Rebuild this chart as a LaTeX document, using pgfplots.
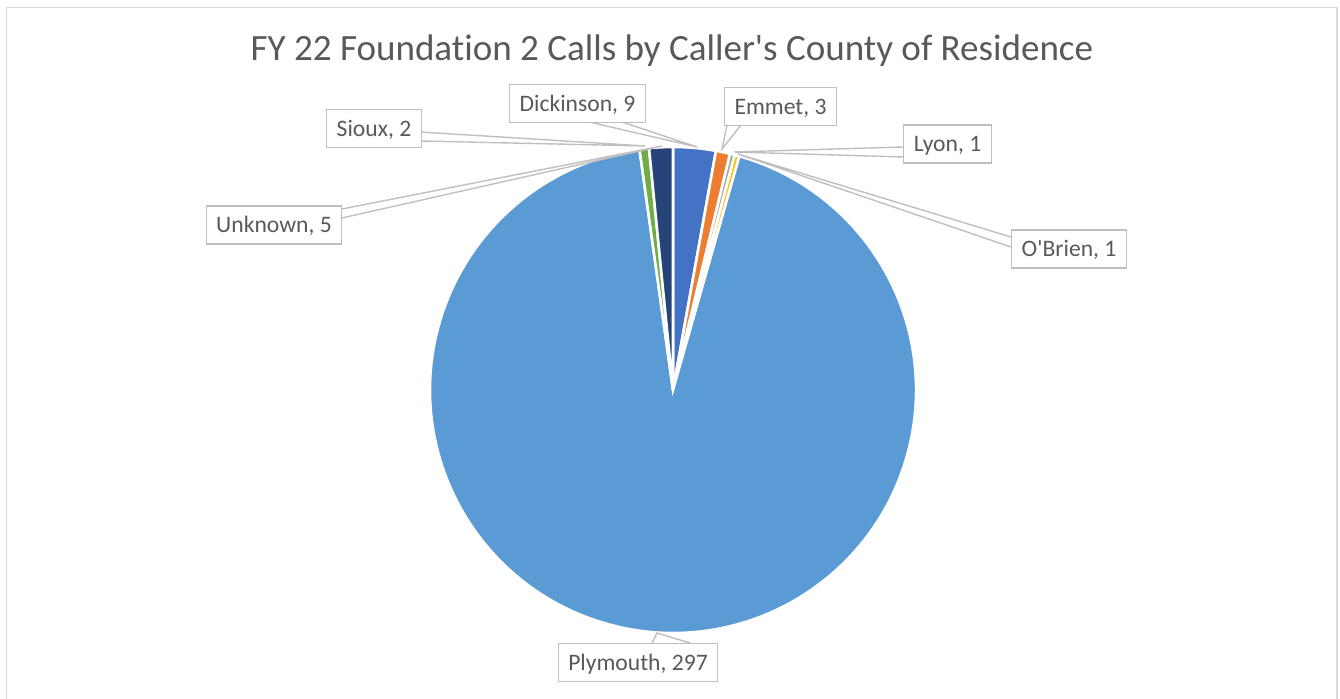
\documentclass[border=0pt]{standalone}
\usepackage{pgfplots}
\pgfplotsset{compat=1.18}
\usepackage{pgfplotstable}
\usepackage{fontspec}
\setmainfont{Carlito}[Ligatures={TeXOff,NoCommon}]
\definecolor{c1}{HTML}{4472C4}
\definecolor{c2}{HTML}{ED7D31}
\definecolor{c3}{HTML}{A5A5A5}
\definecolor{c4}{HTML}{FFC000}
\definecolor{c5}{HTML}{5B9BD5}
\definecolor{c6}{HTML}{70AD47}
\definecolor{c7}{HTML}{264478}
\definecolor{txt}{HTML}{595959}
\definecolor{lead}{HTML}{BFBFBF}
\definecolor{frame}{HTML}{D9D9D9}
\pgfplotstableread{
name value color
Dickinson 9 c1
Emmet 3 c2
Lyon 1 c3
OBrien 1 c4
Plymouth 297 c5
Sioux 2 c6
Unknown 5 c7
}\piedata
\begin{document}
\begin{tikzpicture}[x=1bp,y=1bp,
  lab/.style={draw=lead, line width=1.4bp, fill=white, text=txt,
    font=\fontsize{23.7}{28}\selectfont, text height=15.3bp, text depth=0bp,
    inner xsep=10bp, inner ysep=11.5bp}]
\draw[frame, line width=1.5bp] (6.5,-10) -- (6.5,690.5) -- (1337,690.5) -- (1337,-10);
\begin{axis}[at={(0,0)}, anchor=south west, width=1340bp, height=698bp,
  scale only axis, xmin=0, xmax=1340, ymin=0, ymax=698, hide axis, clip=false]
\pgfplotstablegetrowsof{\piedata}
\pgfmathtruncatemacro\nrows{\pgfplotsretval-1}
\def\total{0}
\pgfplotsforeachungrouped \i in {0,...,\nrows}{%
  \pgfplotstablegetelem{\i}{value}\of\piedata
  \pgfmathsetmacro\total{\total+\pgfplotsretval}%
}
\def\curang{90}
\pgfplotsforeachungrouped \i in {0,...,\nrows}{%
  \pgfplotstablegetelem{\i}{value}\of\piedata \let\v\pgfplotsretval
  \pgfplotstablegetelem{\i}{color}\of\piedata \let\c\pgfplotsretval
  \pgfmathsetmacro\nextang{\curang-(\v/\total)*360}%
  \edef\temp{\noexpand\filldraw[fill=\c, draw=white, line width=2.6bp, line join=miter]
    (axis cs:673,308) -- ++(\curang:243bp) arc[start angle=\curang, end angle=\nextang, radius=243bp] -- cycle;}%
  \temp
  \let\curang\nextang
}
% leader pointers
\draw[lead, line width=1.4bp] (axis cs:589,576) -- (axis cs:697,551) -- (axis cs:622,576);
\draw[lead, line width=1.4bp] (axis cs:727,573) -- (axis cs:722,549) -- (axis cs:741,573);
\draw[lead, line width=1.4bp] (axis cs:903,551) -- (axis cs:734,546) -- (axis cs:903,541);
\draw[lead, line width=1.4bp] (axis cs:1011,461) -- (axis cs:738,544) -- (axis cs:1011,451);
\draw[lead, line width=1.4bp] (axis cs:420,566) -- (axis cs:645,552) -- (axis cs:420,557);
\draw[lead, line width=1.4bp] (axis cs:342,489) -- (axis cs:662,552) -- (axis cs:342,480);
\draw[lead, line width=1.4bp] (axis cs:652,55) -- (axis cs:657,65) -- (axis cs:690,55);
% labels
\node[lab] at (axis cs:577.5,594.5) {Dickinson, 9};
\node[lab] at (axis cs:780.5,591.5) {Emmet, 3};
\node[lab] at (axis cs:947.5,554) {Lyon, 1};
\node[lab] at (axis cs:1069,449) {O'Brien, 1};
\node[lab] at (axis cs:374,569.5) {Sioux, 2};
\node[lab] at (axis cs:274,473) {Unknown, 5};
\node[lab] at (axis cs:638,35.5) {Plymouth, 297};
% title
\node[anchor=base, text=txt, font=\fontsize{37.2}{44}\selectfont, inner sep=0pt] at (axis cs:672,637) {FY 22 Foundation 2 Calls by Caller's County of Residence};
\end{axis}
\pgfresetboundingbox
\path[use as bounding box] (0,0) rectangle (1340,698);
\end{tikzpicture}
\end{document}
